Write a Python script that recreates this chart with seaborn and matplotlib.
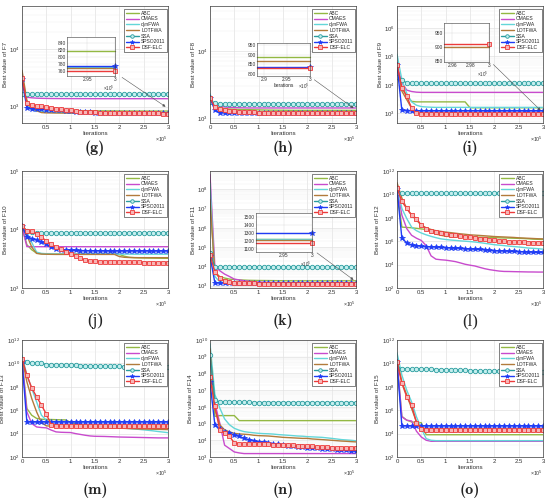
import matplotlib
matplotlib.use('Agg')
import matplotlib.pyplot as plt
import matplotlib.ticker as mticker
import numpy as np
import pandas as pd
import seaborn as sns

# iteration grid shared by every curve
ITERS = [0, 10000, 20000, 30000, 40000, 50000, 60000, 70000, 80000, 90000,
         100000, 110000, 120000, 130000, 140000, 150000, 160000, 170000, 180000, 190000,
         200000, 210000, 220000, 230000, 240000, 250000, 260000, 270000, 280000, 290000, 300000]

ALGS = ['ABC', 'CMAES', 'dynFWA', 'LOTFWA', 'SSA', 'SPSO2011', 'DSF-ELC']
XTICKS = [0, 50000, 100000, 150000, 200000, 250000, 300000]
XTICK_LABELS = ['0', '0.5', '1', '1.5', '2', '2.5', '3']

# ---------- F7 (g) ----------
G_ABC = [3500, 1100, 960, 920, 900, 890, 880, 870, 865, 860,
         858, 856, 854, 852, 850, 849, 848, 847, 846, 845,
         844, 843, 842, 842, 841, 841, 840, 840, 840, 840, 840]
G_CMAES = [1550, 1460, 1430, 1410, 1400, 1395, 1390, 1388, 1386, 1385,
           1384, 1383, 1382, 1381, 1380, 1380, 1380, 1380, 1380, 1380,
           1380, 1380, 1380, 1380, 1380, 1380, 1380, 1380, 1380, 1380, 1380]
G_DYN = [3800, 1000, 880, 840, 820, 810, 800, 795, 790, 786,
         783, 780, 778, 777, 776, 775, 774, 774, 773, 773,
         773, 772, 772, 772, 772, 772, 772, 772, 772, 772, 772]
G_LOT = [4300, 1300, 950, 850, 790, 780, 778, 776, 775, 774,
         773, 772, 772, 771, 771, 771, 771, 771, 771, 771,
         771, 771, 771, 771, 771, 771, 771, 771, 771, 771, 771]
G_SSA = [1650, 1650, 1650, 1650, 1650, 1650, 1650, 1650, 1650, 1650,
         1650, 1650, 1650, 1650, 1650, 1650, 1650, 1650, 1650, 1650,
         1650, 1650, 1650, 1650, 1650, 1650, 1650, 1650, 1650, 1650, 1650]
G_SPSO = [3000, 960, 930, 910, 900, 890, 880, 870, 860, 845,
          830, 818, 808, 800, 795, 790, 788, 786, 784, 782,
          780, 779, 778, 777, 777, 776, 776, 775, 775, 774, 774]
G_DSF = [3200, 1150, 1080, 1040, 1010, 990, 960, 930, 900, 880,
         860, 840, 820, 808, 800, 794, 788, 784, 780, 776,
         773, 770, 768, 767, 766, 765, 764, 763, 762, 761, 760]

# ---------- F8 (h) ----------
H_ABC = [2000, 1500, 1420, 1380, 1360, 1350, 1340, 1335, 1330, 1325,
         1320, 1315, 1310, 1308, 1306, 1304, 1302, 1300, 1300, 1300,
         1300, 1300, 1300, 1300, 1300, 1300, 1300, 1300, 1300, 1300, 1300]
H_CMAES = [1900, 1600, 1500, 1460, 1440, 1430, 1420, 1415, 1410, 1410,
           1410, 1410, 1410, 1410, 1410, 1410, 1410, 1410, 1410, 1410,
           1410, 1410, 1410, 1410, 1410, 1410, 1410, 1410, 1410, 1410, 1410]
H_DYN = [2300, 1450, 1350, 1300, 1280, 1260, 1250, 1240, 1235, 1230,
         1228, 1226, 1224, 1222, 1220, 1220, 1220, 1220, 1220, 1220,
         1220, 1220, 1220, 1220, 1220, 1220, 1220, 1220, 1220, 1220, 1220]
H_LOT = [2100, 1400, 1300, 1250, 1220, 1210, 1205, 1200, 1200, 1200,
         1200, 1200, 1200, 1200, 1200, 1200, 1200, 1200, 1200, 1200,
         1200, 1200, 1200, 1200, 1200, 1200, 1200, 1200, 1200, 1200, 1200]
H_SSA = [1750, 1650, 1630, 1620, 1620, 1620, 1620, 1620, 1620, 1620,
         1620, 1620, 1620, 1620, 1620, 1620, 1620, 1620, 1620, 1620,
         1620, 1620, 1620, 1620, 1620, 1620, 1620, 1620, 1620, 1620, 1620]
H_SPSO = [2000, 1300, 1200, 1190, 1185, 1182, 1180, 1180, 1180, 1180,
          1180, 1180, 1180, 1180, 1180, 1180, 1180, 1180, 1180, 1180,
          1180, 1180, 1180, 1180, 1180, 1180, 1180, 1180, 1180, 1180, 1180]
H_DSF = [2000, 1450, 1350, 1300, 1270, 1250, 1235, 1225, 1215, 1208,
         1202, 1198, 1195, 1192, 1190, 1188, 1186, 1185, 1185, 1185,
         1185, 1185, 1185, 1185, 1185, 1185, 1185, 1185, 1185, 1185, 1185]

# ---------- F9 (i) ----------
I_ABC = [5e4, 8000, 4000, 2600, 2500, 2500, 2500, 2500, 2500, 2500,
         2500, 2500, 2500, 2500, 2500, 1550, 1550, 1550, 1550, 1550,
         1550, 1550, 1550, 1550, 1550, 1550, 1550, 1550, 1550, 1550, 1550]
I_CMAES = [5e4, 1.2e4, 6500, 5800, 5500, 5400, 5400, 5400, 5400, 5400,
           5400, 5400, 5400, 5400, 5400, 5400, 5400, 5400, 5400, 5400,
           5400, 5400, 5400, 5400, 5400, 5400, 5400, 5400, 5400, 5400, 5400]
I_DYN = [1.2e5, 1.5e4, 5000, 2500, 1900, 1700, 1650, 1620, 1600, 1600,
         1600, 1600, 1600, 1600, 1600, 1600, 1600, 1600, 1600, 1600,
         1600, 1600, 1600, 1600, 1600, 1600, 1600, 1600, 1600, 1600, 1600]
I_LOT = [5e4, 6000, 3000, 1500, 1000, 920, 905, 900, 900, 900,
         900, 900, 900, 900, 900, 900, 900, 900, 900, 900,
         900, 900, 900, 900, 900, 900, 900, 900, 900, 900, 900]
I_SSA = [1.9e4, 1.5e4, 1.15e4, 1.12e4, 1.12e4, 1.12e4, 1.12e4, 1.12e4, 1.12e4, 1.12e4,
         1.12e4, 1.12e4, 1.12e4, 1.12e4, 1.12e4, 1.12e4, 1.12e4, 1.12e4, 1.12e4, 1.12e4,
         1.12e4, 1.12e4, 1.12e4, 1.12e4, 1.12e4, 1.12e4, 1.12e4, 1.12e4, 1.12e4, 1.12e4, 1.12e4]
I_SPSO = [5e4, 1250, 1240, 1230, 1225, 1220, 1220, 1220, 1220, 1220,
          1220, 1220, 1220, 1220, 1220, 1220, 1220, 1220, 1220, 1220,
          1220, 1220, 1220, 1220, 1220, 1220, 1220, 1220, 1220, 1220, 1220]
I_DSF = [5e4, 8000, 4000, 1500, 1000, 930, 915, 912, 910, 910,
         910, 910, 910, 910, 910, 910, 910, 910, 910, 910,
         910, 910, 910, 910, 910, 910, 910, 910, 910, 910, 910]

# ---------- F10 (j) ----------
J_ABC = [1.1e4, 5500, 4500, 3950, 3850, 3800, 3800, 3800, 3800, 3800,
         3800, 3800, 3800, 3800, 3800, 3800, 3800, 3800, 3800, 3800,
         3750, 3500, 3350, 3300, 3280, 3260, 3250, 3240, 3230, 3220, 3220]
J_CMAES = [1.1e4, 5100, 5080, 5080, 5080, 5080, 5080, 5080, 5080, 5080,
           5080, 5080, 5080, 5080, 5080, 5080, 5080, 5080, 5080, 5080,
           5080, 5080, 5080, 5080, 5080, 5080, 5080, 5080, 5080, 5080, 5080]
J_DYN = [1.1e4, 9000, 6000, 4100, 3900, 3850, 3820, 3800, 3800, 3800,
         3800, 3800, 3800, 3800, 3800, 3800, 3800, 3800, 3800, 3800,
         3790, 3790, 3790, 3780, 3780, 3780, 3780, 3780, 3780, 3780, 3780]
J_LOT = [1.1e4, 8000, 5000, 3900, 3800, 3780, 3760, 3750, 3750, 3750,
         3750, 3750, 3750, 3750, 3750, 3750, 3750, 3750, 3750, 3750,
         3450, 3350, 3320, 3310, 3300, 3300, 3300, 3300, 3300, 3300, 3300]
J_SSA = [1.15e4, 9500, 9000, 8800, 8700, 8700, 8700, 8700, 8700, 8700,
         8700, 8700, 8700, 8700, 8700, 8700, 8700, 8700, 8700, 8700,
         8700, 8700, 8700, 8700, 8700, 8700, 8700, 8700, 8700, 8700, 8700]
J_SPSO = [1.15e4, 7500, 7000, 6600, 6200, 5600, 5000, 4700, 4550, 4450,
          4400, 4380, 4360, 4350, 4340, 4330, 4320, 4310, 4300, 4300,
          4300, 4300, 4300, 4300, 4300, 4300, 4300, 4300, 4300, 4300, 4300]
J_DSF = [1.15e4, 9500, 9300, 8500, 7500, 6300, 5600, 5000, 4600, 4200,
         3800, 3500, 3200, 3000, 2900, 2850, 2820, 2800, 2790, 2780,
         2770, 2760, 2750, 2740, 2730, 2720, 2710, 2700, 2700, 2700, 2700]

# ---------- F11 (k) ----------
K_ABC = [3e7, 5000, 3000, 2500, 2200, 2100, 2000, 1950, 1900, 1880,
         1860, 1850, 1840, 1830, 1820, 1810, 1800, 1800, 1800, 1800,
         1800, 1800, 1800, 1800, 1800, 1800, 1800, 1800, 1800, 1800, 1800]
K_CMAES = [6e8, 1e4, 6000, 4000, 3000, 2200, 2000, 1800, 1700, 1600,
           1550, 1500, 1480, 1460, 1450, 1440, 1430, 1420, 1410, 1400,
           1400, 1400, 1400, 1400, 1400, 1400, 1400, 1400, 1400, 1400, 1400]
K_DYN = [2e8, 3000, 1600, 1450, 1420, 1400, 1395, 1390, 1385, 1380,
         1380, 1380, 1380, 1380, 1380, 1380, 1380, 1380, 1380, 1380,
         1380, 1380, 1380, 1380, 1380, 1380, 1380, 1380, 1380, 1380, 1380]
K_LOT = [3e7, 5000, 2500, 1800, 1600, 1500, 1450, 1420, 1400, 1390,
         1380, 1370, 1360, 1355, 1350, 1350, 1350, 1350, 1350, 1350,
         1350, 1350, 1350, 1350, 1350, 1350, 1350, 1350, 1350, 1350, 1350]
K_SSA = [5e4, 9500, 9500, 9500, 9500, 9500, 9500, 9500, 9500, 9500,
         9500, 9500, 9500, 9500, 9500, 9500, 9500, 9500, 9500, 9500,
         9500, 9500, 9500, 9500, 9500, 9500, 9500, 9500, 9500, 9500, 9500]
K_SPSO = [3.5e4, 1400, 1380, 1370, 1360, 1355, 1350, 1350, 1350, 1350,
          1350, 1350, 1350, 1350, 1350, 1350, 1350, 1350, 1350, 1350,
          1350, 1350, 1350, 1350, 1350, 1350, 1350, 1350, 1350, 1350, 1350]
K_DSF = [4e4, 5300, 2600, 1700, 1500, 1420, 1380, 1350, 1330, 1310,
         1300, 1290, 1280, 1270, 1265, 1260, 1255, 1250, 1250, 1250,
         1250, 1250, 1250, 1250, 1250, 1250, 1250, 1250, 1250, 1250, 1250]

# ---------- F12 (l) ----------
L_ABC = [2e10, 1.6e7, 1.5e7, 1.4e7, 1.26e7, 1.12e7, 1e7, 6.3e6, 4e6, 3.2e6,
         2.6e6, 2.5e6, 2.45e6, 2.4e6, 2.35e6, 2.3e6, 2.25e6, 2.2e6, 2.15e6, 2.1e6,
         2.0e6, 1.95e6, 1.9e6, 1.85e6, 1.8e6, 1.75e6, 1.7e6, 1.6e6, 1.5e6, 1.45e6, 1.4e6]
L_CMAES = [5e10, 1.7e8, 1.2e7, 3.2e6, 1.8e6, 1.15e6, 4.2e5, 5.6e4, 2.9e4, 2.6e4,
           2.4e4, 2.1e4, 1.8e4, 1.4e4, 1.07e4, 8900, 7600, 5800, 4500, 3700,
           3200, 2800, 2600, 2570, 2500, 2450, 2400, 2350, 2340, 2300, 2300]
L_DYN = [6e10, 6.3e8, 8.7e7, 1.6e7, 7.9e6, 5e6, 3.5e6, 2.6e6, 2e6, 1.6e6,
         1.4e6, 1.26e6, 1.17e6, 1.07e6, 1e6, 9.3e5, 8.5e5, 7.6e5, 6.6e5, 5.8e5,
         5e5, 4.6e5, 4.2e5, 3.8e5, 3.5e5, 3.2e5, 2.9e5, 2.6e5, 2.45e5, 2.3e5, 2.1e5]
L_LOT = [1e11, 4.8e9, 6.3e8, 1.7e8, 6.3e7, 2.3e7, 1.4e7, 1e7, 7.9e6, 6.9e6,
         6e6, 5.4e6, 4.8e6, 4.3e6, 3.9e6, 3.5e6, 3.3e6, 3.1e6, 2.9e6, 2.7e6,
         2.5e6, 2.4e6, 2.3e6, 2.2e6, 2.1e6, 1.95e6, 1.86e6, 1.78e6, 1.7e6, 1.62e6, 1.58e6]
L_SSA = [1.2e10, 1.2e10, 1.2e10, 1.2e10, 1.2e10, 1.2e10, 1.2e10, 1.2e10, 1.2e10, 1.2e10,
         1.2e10, 1.2e10, 1.2e10, 1.2e10, 1.2e10, 1.2e10, 1.2e10, 1.2e10, 1.2e10, 1.2e10,
         1.2e10, 1.2e10, 1.2e10, 1.2e10, 1.2e10, 1.2e10, 1.2e10, 1.2e10, 1.2e10, 1.2e10, 1.2e10]
L_SPSO = [3e10, 1.8e6, 7.2e5, 4.8e5, 4.2e5, 3.7e5, 3.5e5, 3.3e5, 3.2e5, 3e5,
          2.8e5, 2.7e5, 2.6e5, 2.5e5, 2.2e5, 2.15e5, 2.1e5, 2.0e5, 1.85e5, 1.7e5,
          1.55e5, 1.5e5, 1.45e5, 1.4e5, 1.35e5, 1.3e5, 1.25e5, 1.2e5, 1.15e5, 1.12e5, 1.1e5]
L_DSF = [3.5e10, 2.5e9, 6.3e8, 1.7e8, 8.7e7, 2.3e7, 1.2e7, 7.9e6, 6e6, 4.8e6,
         4e6, 3.5e6, 3.2e6, 2.8e6, 2.5e6, 2.2e6, 2e6, 1.7e6, 1.5e6, 1.3e6,
         1.15e6, 1.05e6, 9.5e5, 8.9e5, 8.3e5, 7.9e5, 7.8e5, 7.6e5, 7.4e5, 7.2e5, 7.2e5]

# ---------- F13 (m) ----------
M_ABC = [3e10, 1.4e6, 3.7e5, 2e5, 1.7e5, 1.6e5, 1.6e5, 1.55e5, 1.5e5, 1.48e5,
         9e4, 7e4, 5.6e4, 5e4, 4.5e4, 4e4, 3.8e4, 3.6e4, 3.5e4, 3.4e4,
         3.3e4, 3.2e4, 3.1e4, 3e4, 3e4, 2.9e4, 2.9e4, 2.8e4, 2.8e4, 2.7e4, 2.7e4]
M_CMAES = [2e10, 7.2e5, 7.2e4, 3.7e4, 3.3e4, 3.1e4, 2e4, 1.4e4, 1.3e4, 1.26e4,
           1.23e4, 1e4, 8500, 7200, 6300, 5900, 5800, 5700, 5500, 5300,
           5100, 5000, 4900, 4800, 4700, 4600, 4500, 4400, 4300, 4300, 4300]
M_DYN = [5e10, 1e9, 7.2e7, 5.1e6, 3.7e5, 1.4e5, 8e4, 5.9e4, 5.2e4, 4.9e4,
         4.6e4, 4.5e4, 4.4e4, 4.3e4, 4.2e4, 4.1e4, 4e4, 3.8e4, 3.6e4, 3.4e4,
         3.1e4, 2.9e4, 2.7e4, 2.5e4, 2.3e4, 2.1e4, 1.9e4, 1.7e4, 1.5e4, 1.35e4, 1.2e4]
M_LOT = [3e10, 2.7e8, 1e7, 7.2e5, 8.7e4, 4.6e4, 4.3e4, 4.2e4, 4.1e4, 4e4,
         3.9e4, 3.8e4, 3.7e4, 3.6e4, 3.5e4, 3.4e4, 3.3e4, 3.2e4, 3.1e4, 3e4,
         2.9e4, 2.8e4, 2.7e4, 2.6e4, 2.5e4, 2.45e4, 2.4e4, 2.35e4, 2.3e4, 2.25e4, 2.2e4]
M_SSA = [1.4e10, 1.2e10, 1.15e10, 1.1e10, 1.0e10, 8e9, 7.8e9, 7.6e9, 7.4e9, 7.2e9,
         7e9, 6.8e9, 6.6e9, 6.4e9, 6.2e9, 6e9, 5.9e9, 5.8e9, 5.7e9, 5.6e9,
         5.5e9, 5.4e9, 5.3e9, 5.2e9, 5.1e9, 5e9, 4.9e9, 4.8e9, 4.7e9, 4.6e9, 4.6e9]
M_SPSO = [1.5e10, 1e5, 1e5, 1e5, 1e5, 1e5, 1e5, 1e5, 1e5, 1e5,
          1e5, 1e5, 1e5, 1e5, 1e5, 1e5, 1e5, 1e5, 1e5, 1e5,
          1e5, 1e5, 1e5, 1e5, 1e5, 1e5, 1e5, 1e5, 1e5, 1e5, 1e5]
M_DSF = [2.5e10, 1e9, 8e7, 1.4e7, 2.7e6, 4.6e5, 5.9e4, 4.3e4, 4.3e4, 4.3e4,
         4.3e4, 4.3e4, 4.3e4, 4.3e4, 4.3e4, 4.3e4, 4.3e4, 4.3e4, 4.3e4, 4.3e4,
         4.3e4, 4.3e4, 4.3e4, 4.3e4, 4.3e4, 4.3e4, 4.3e4, 4.3e4, 4.3e4, 4.3e4, 4.3e4]

# ---------- F14 (n) ----------
N_ABC = [2e9, 2.7e5, 3e5, 3e5, 3e5, 3e5, 1.5e5, 1.5e5, 1.5e5, 1.5e5,
         1.5e5, 1.5e5, 1.5e5, 1.5e5, 1.5e5, 1.5e5, 1.5e5, 1.5e5, 1.5e5, 1.5e5,
         1.5e5, 1.5e5, 1.5e5, 1.5e5, 1.5e5, 1.5e5, 1.5e5, 1.5e5, 1.5e5, 1.5e5, 1.5e5]
N_CMAES = [1e9, 1.7e6, 1.1e5, 5100, 3200, 2000, 1750, 1600, 1600, 1600,
           1600, 1600, 1600, 1600, 1600, 1600, 1600, 1600, 1600, 1600,
           1600, 1600, 1600, 1600, 1600, 1600, 1600, 1600, 1600, 1600, 1600]
N_DYN = [6e9, 5.6e6, 8.7e5, 1.9e5, 8.5e4, 5.2e4, 4e4, 3.3e4, 3e4, 2.8e4,
         2.6e4, 2.5e4, 2.45e4, 2.35e4, 2.2e4, 2.1e4, 2e4, 1.9e4, 1.8e4, 1.75e4,
         1.65e4, 1.6e4, 1.55e4, 1.5e4, 1.4e4, 1.3e4, 1.2e4, 1.1e4, 1.05e4, 1e4, 9300]
N_LOT = [3e9, 6.9e5, 8.5e4, 4.2e4, 3.2e4, 2.6e4, 2.4e4, 2.3e4, 2.2e4, 2.0e4,
         1.9e4, 1.85e4, 1.8e4, 1.7e4, 1.6e4, 1.5e4, 1.45e4, 1.4e4, 1.35e4, 1.3e4,
         1.3e4, 1.2e4, 1.15e4, 1.1e4, 1.05e4, 1e4, 9500, 9000, 8700, 8300, 8000]
N_SSA = [1.3e9, 2.5e6, 2.0e6, 1.95e6, 1.9e6, 1.9e6, 1.85e6, 1.85e6, 1.85e6, 1.8e6,
         1.8e6, 1.8e6, 1.8e6, 1.8e6, 1.8e6, 1.8e6, 1.8e6, 1.8e6, 1.8e6, 1.8e6,
         1.8e6, 1.8e6, 1.8e6, 1.8e6, 1.8e6, 1.8e6, 1.8e6, 1.8e6, 1.8e6, 1.8e6, 1.8e6]
N_SPSO = [2.9e7, 8.5e4, 4.6e4, 3.3e4, 2.6e4, 2.1e4, 1.7e4, 1.3e4, 1.1e4, 9500,
          8100, 7400, 6800, 6200, 5600, 5100, 4800, 4500, 4200, 3900,
          3550, 3450, 3350, 3200, 3100, 2950, 2800, 2600, 2450, 2300, 2200]
N_DSF = [5.9e7, 1.1e6, 4.2e4, 2.6e4, 1.7e4, 7100, 5900, 5900, 5900, 5900,
         5900, 5700, 5600, 5400, 5300, 5100, 5000, 4900, 4800, 4600,
         4500, 4400, 4200, 4100, 3900, 3700, 3650, 3600, 3600, 3550, 3550]

# ---------- F15 (o) ----------
O_ABC = [1.5e10, 3e5, 1.4e5, 1e5, 9e4, 8.5e4, 8000, 8000, 8000, 8000,
         8000, 8000, 8000, 8000, 8000, 8000, 8000, 8000, 8000, 8000,
         8000, 8000, 8000, 8000, 8000, 8000, 8000, 8000, 8000, 8000, 8000]
O_CMAES = [1.5e10, 2.7e5, 1.4e5, 1.2e5, 1.6e4, 5100, 2700, 2200, 2200, 2200,
           2200, 2200, 2200, 2200, 2200, 2200, 2200, 2200, 2200, 2200,
           2200, 2200, 2200, 2200, 2200, 2200, 2200, 2200, 2200, 2200, 2200]
O_DYN = [8e10, 1e9, 5.1e7, 5.1e6, 2.7e5, 2.7e4, 3700, 2700, 2500, 2500,
         2500, 2500, 2500, 2500, 2500, 2500, 2500, 2500, 2500, 2500,
         2500, 2500, 2500, 2500, 2500, 2500, 2500, 2500, 2500, 2500, 2500]
O_LOT = [2e10, 2.7e8, 2e7, 1.4e6, 1e5, 2.7e4, 1.5e4, 1.5e4, 1.5e4, 1.5e4,
         1.5e4, 1.5e4, 1.5e4, 1.5e4, 1.5e4, 1.5e4, 1.5e4, 1.5e4, 1.5e4, 1.5e4,
         1.5e4, 1.5e4, 1.5e4, 1.5e4, 1.5e4, 1.5e4, 1.5e4, 1.5e4, 1.5e4, 1.5e4, 1.5e4]
O_SSA = [3.7e9, 3.6e9, 3.5e9, 3.45e9, 3.4e9, 3.3e9, 3.2e9, 3.1e9, 3e9, 2.9e9,
         2.8e9, 2.7e9, 2.6e9, 2.55e9, 2.5e9, 2.45e9, 2.4e9, 2.35e9, 2.3e9, 2.25e9,
         2.2e9, 2.15e9, 2.1e9, 2.05e9, 2e9, 1.95e9, 1.9e9, 1.85e9, 1.8e9, 1.75e9, 1.7e9]
O_SPSO = [1.2e10, 4.6e4, 4.6e4, 4.6e4, 4.6e4, 4.6e4, 4.6e4, 4.6e4, 4.6e4, 4.6e4,
          4.6e4, 4.6e4, 4.6e4, 4.6e4, 4.6e4, 4.6e4, 4.6e4, 4.6e4, 4.6e4, 4.6e4,
          4.6e4, 4.6e4, 4.6e4, 4.6e4, 4.6e4, 4.6e4, 4.6e4, 4.6e4, 4.6e4, 4.6e4, 4.6e4]
O_DSF = [1.3e10, 2e8, 1.4e7, 2.7e6, 8.7e4, 2.7e4, 2.2e4, 2.2e4, 2.2e4, 2.2e4,
         2.2e4, 2.2e4, 2.2e4, 2.2e4, 2.2e4, 2.2e4, 2.2e4, 2.2e4, 2.2e4, 2.2e4,
         2.2e4, 2.2e4, 2.2e4, 2.2e4, 2.2e4, 2.2e4, 2.2e4, 2.2e4, 2.2e4, 2.2e4, 2.2e4]

# ---------- zoomed insets (final values near 3e5) ----------
G_INSET_ALGS = ['ABC', 'dynFWA', 'LOTFWA', 'SPSO2011', 'DSF-ELC']
G_INSET_VALS = [818, 772, 770, 774, 760]
H_INSET_ALGS = ['ABC', 'LOTFWA', 'SPSO2011', 'DSF-ELC']
H_INSET_VALS = [890, 865, 838, 830]
I_INSET_ALGS = ['LOTFWA', 'DSF-ELC']
I_INSET_VALS = [900, 912]
K_INSET_ALGS = ['ABC', 'dynFWA', 'LOTFWA', 'SPSO2011', 'DSF-ELC']
K_INSET_VALS = [1225, 1220, 1215, 1300, 1170]

COLORS = {'ABC': '#93b843', 'CMAES': '#c84bcd', 'dynFWA': '#63d6d8',
          'LOTFWA': '#b27b3c', 'SSA': '#2a9d9f', 'SPSO2011': '#1f3cf5',
          'DSF-ELC': '#ec3b3b'}
MARKS = {'SSA': dict(marker='o', markersize=3.2, markerfacecolor='#c4eeee', markeredgewidth=0.6),
         'SPSO2011': dict(marker='*', markersize=4.0, markeredgewidth=0.5),
         'DSF-ELC': dict(marker='s', markersize=2.8, markerfacecolor='#f7b5b5', markeredgewidth=0.6)}


def mark_kw(alg):
    kw = dict(MARKS.get(alg, {}))
    if kw:
        kw['markeredgecolor'] = COLORS[alg]
    return kw


sns.set_style('whitegrid')
plt.rcParams['font.family'] = ['Liberation Sans', 'DejaVu Sans']
plt.rcParams['mathtext.fontset'] = 'custom'
plt.rcParams['mathtext.rm'] = 'Liberation Sans'
plt.rcParams['axes.edgecolor'] = '#3a3a3a'
plt.rcParams['axes.linewidth'] = 0.5

fig = plt.figure(figsize=(5.5, 5.0), dpi=100)

# axes boxes in pixels: (left, top)
COL_LEFT = [22, 210, 397]
ROW_TOP = [6, 171, 340]
AX_W, AX_H = 146, 117


def make_axes(row, col):
    l = COL_LEFT[col] / 550
    b = 1 - (ROW_TOP[row] + AX_H) / 500
    return fig.add_axes([l, b, AX_W / 550, AX_H / 500])


def draw_panel(ax, series, fname, ylim, yticks, hide_zero=False, decade_minor=True):
    ax.set_yscale('log')
    for alg, vals in zip(ALGS, series):
        df = pd.DataFrame({'Iterations': ITERS, 'value': vals})
        sns.lineplot(data=df, x='Iterations', y='value', ax=ax, color=COLORS[alg],
                     linewidth=1.0, label=alg, errorbar=None, **mark_kw(alg))
    ax.set_xlim(0, 300000)
    ax.set_ylim(*ylim)
    ax.set_xticks(XTICKS)
    labels = list(XTICK_LABELS)
    if hide_zero:
        labels[0] = ''
    ax.set_xticklabels(labels)
    ax.set_yticks(yticks)
    ax.yaxis.set_major_formatter(mticker.LogFormatterSciNotation())
    if decade_minor:
        ax.yaxis.set_minor_locator(mticker.LogLocator(base=10, subs=np.arange(2, 10), numticks=30))
    else:
        ax.yaxis.set_minor_locator(mticker.LogLocator(base=10, subs=(1.0,), numticks=30))
    ax.yaxis.set_minor_formatter(mticker.NullFormatter())
    ax.tick_params(axis='both', which='major', direction='in', length=2, width=0.4,
                   labelsize=4.3, pad=1.5, colors='#333333')
    ax.tick_params(axis='y', which='minor', direction='in', length=1, width=0.3)
    ax.grid(True, which='major', color='#dadada', lw=0.4)
    ax.grid(True, which='minor', axis='y', color='#ededed', lw=0.3)
    ax.set_xlabel('Iterations', fontsize=4.5, labelpad=0.5, color='#333333')
    ax.set_ylabel('Best value of ' + fname, fontsize=4.5, labelpad=1, color='#333333')
    ax.text(1.0, -0.1, r'$\times10^{5}$', transform=ax.transAxes, ha='right', va='top',
            fontsize=3.8, color='#333333')
    leg = ax.legend(loc='upper right', bbox_to_anchor=(0.995, 0.975), borderaxespad=0,
                    fontsize=3.6, handlelength=2.6, labelspacing=0.15, borderpad=0.35,
                    handletextpad=0.5, frameon=True, fancybox=False, edgecolor='#222222',
                    framealpha=1, markerscale=0.8)
    leg.get_frame().set_linewidth(0.4)


def draw_inset(ax, rect, algs, vals, xlim, xticks, xlabels, ylim, yticks, arrow_from, arrow_to,
               show_label=False):
    ins = ax.inset_axes(rect)
    for alg, v in zip(algs, vals):
        df = pd.DataFrame({'Iterations': [xlim[0], xlim[1]], 'value': [v, v]})
        kw = mark_kw(alg)
        if kw:
            kw['markevery'] = [1]
        sns.lineplot(data=df, x='Iterations', y='value', ax=ins, color=COLORS[alg],
                     linewidth=1.0, errorbar=None, legend=False, clip_on=False, **kw)
    ins.set_xlim(*xlim)
    ins.set_ylim(*ylim)
    ins.set_xticks(xticks)
    ins.set_xticklabels(xlabels)
    ins.set_yticks(yticks)
    ins.tick_params(direction='in', length=1.5, width=0.3, labelsize=3.5, pad=1,
                    colors='#333333')
    ins.grid(True, color='#dadada', lw=0.3)
    ins.set_ylabel('')
    ins.set_xlabel('Iterations' if show_label else '', fontsize=3.5, labelpad=0.5)
    ins.set_facecolor('white')
    for s in ins.spines.values():
        s.set_linewidth(0.4)
    ins.text(1.0, -0.2 if not show_label else -0.17, r'$\times10^{5}$', transform=ins.transAxes,
             ha='right', va='top', fontsize=3.3, color='#333333')
    ax.annotate('', xy=arrow_to, xycoords='data', xytext=arrow_from, textcoords='axes fraction',
                arrowprops=dict(arrowstyle='-|>', color='#555555', lw=0.4, mutation_scale=4,
                                shrinkA=0, shrinkB=0))


PANELS = [
    ('F7', [G_ABC, G_CMAES, G_DYN, G_LOT, G_SSA, G_SPSO, G_DSF], (520, 5.7e4), [1e3, 1e4], True, True),
    ('F8', [H_ABC, H_CMAES, H_DYN, H_LOT, H_SSA, H_SPSO, H_DSF], (841, 4.7e4), [1e3, 1e4], False, True),
    ('F9', [I_ABC, I_CMAES, I_DYN, I_LOT, I_SSA, I_SPSO, I_DSF], (450, 6e6), [1e3, 1e4, 1e5, 1e6], True, True),
    ('F10', [J_ABC, J_CMAES, J_DYN, J_LOT, J_SSA, J_SPSO, J_DSF], (1e3, 1e5), [1e3, 1e4, 1e5], False, True),
    ('F11', [K_ABC, K_CMAES, K_DYN, K_LOT, K_SSA, K_SPSO, K_DSF], (760, 9e8),
     [1e3, 1e4, 1e5, 1e6, 1e7, 1e8], True, True),
    ('F12', [L_ABC, L_CMAES, L_DYN, L_LOT, L_SSA, L_SPSO, L_DSF], (1e2, 1e12),
     [1e2, 1e4, 1e6, 1e8, 1e10, 1e12], False, False),
    ('F13', [M_ABC, M_CMAES, M_DYN, M_LOT, M_SSA, M_SPSO, M_DSF], (1e2, 1e12),
     [1e2, 1e4, 1e6, 1e8, 1e10, 1e12], False, False),
    ('F14', [N_ABC, N_CMAES, N_DYN, N_LOT, N_SSA, N_SPSO, N_DSF], (1e3, 1e10),
     [1e3, 1e4, 1e5, 1e6, 1e7, 1e8, 1e9, 1e10], False, True),
    ('F15', [O_ABC, O_CMAES, O_DYN, O_LOT, O_SSA, O_SPSO, O_DSF], (1e2, 1e12),
     [1e2, 1e4, 1e6, 1e8, 1e10, 1e12], False, False),
]
TAGS = ['(g)', '(h)', '(i)', '(j)', '(k)', '(l)', '(m)', '(n)', '(o)']
TAG_Y = [148, 321, 490]

axes = []
for k, (fname, series, ylim, yticks, hide_zero, dm) in enumerate(PANELS):
    r, c = divmod(k, 3)
    ax = make_axes(r, c)
    draw_panel(ax, series, fname, ylim, yticks, hide_zero, dm)
    axes.append(ax)
    cx = (COL_LEFT[c] + AX_W / 2) / 550
    cy = 1 - TAG_Y[r] / 500
    if TAGS[k] in ('(j)', '(l)'):
        fig.text(cx, cy, TAGS[k], ha='center', va='center', fontsize=12,
                 family='Liberation Serif')
    else:
        fig.text(cx, cy, TAGS[k], ha='center', va='center', fontsize=11.5, family='cmb10')

# insets
draw_inset(axes[0], [0.308, 0.402, 0.329, 0.333], G_INSET_ALGS, G_INSET_VALS,
           (291300, 300000), [295000, 300000], ['2.95', '3'], (746, 857),
           [760, 780, 800, 820, 840], (0.685, 0.39), (295000, 1000))
draw_inset(axes[1], [0.322, 0.402, 0.363, 0.282], H_INSET_ALGS, H_INSET_VALS,
           (288500, 300000), [290000, 295000, 300000], ['2.9', '2.95', '3'], (790, 960),
           [800, 850, 900, 950], (0.714, 0.37), (295000, 1400), show_label=True)
draw_inset(axes[2], [0.324, 0.521, 0.304, 0.333], I_INSET_ALGS, I_INSET_VALS,
           (295100, 300000), [296000, 298000, 300000], ['2.96', '2.98', '3'], (848, 985),
           [850, 900, 950], (0.66, 0.5), (295000, 1260))
draw_inset(axes[4], [0.315, 0.308, 0.384, 0.333], K_INSET_ALGS, K_INSET_VALS,
           (290000, 300000), [295000, 300000], ['2.95', '3'], (1060, 1550),
           [1100, 1200, 1300, 1400, 1500], (0.733, 0.3), (295000, 2000))

fig.savefig('out.png', dpi=100, facecolor='white')
